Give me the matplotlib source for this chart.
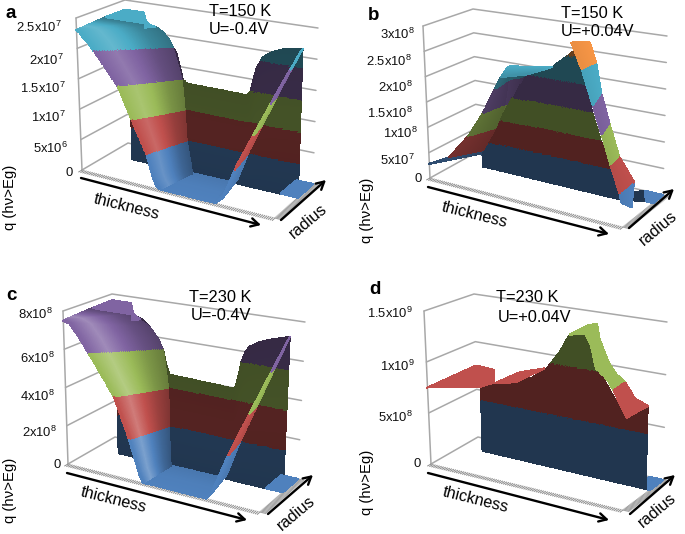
import numpy as np
import matplotlib
matplotlib.use("Agg")
import matplotlib.pyplot as plt
from matplotlib.colors import to_rgb

plt.rcParams['font.family'] = ['Liberation Sans', 'DejaVu Sans']
plt.rcParams['mathtext.default'] = 'regular'

BLUE, RED, GREEN, PURPLE, CYAN, ORANGE = '#4F81BD', '#C0504D', '#9BBB59', '#8064A2', '#4BACC6', '#F79646'
BANDS = [BLUE, RED, GREEN, PURPLE, CYAN, ORANGE]
DARK = 0.42

# ---------- z axis values ----------
A_TICKS = [0, 0.5, 1, 1.5, 2, 2.5]
B_TICKS = [0, 0.5, 1, 1.5, 2, 2.5, 3]
C_TICKS = [0, 2, 4, 6, 8]
D_TICKS = [0, 0.5, 1, 1.5]
A_LABELS = ['0', '5x10$^{6}$', '1x10$^{7}$', '1.5x10$^{7}$', '2x10$^{7}$', '2.5x10$^{7}$']
B_LABELS = ['0', '5x10$^{7}$', '1x10$^{8}$', '1.5x10$^{8}$', '2x10$^{8}$', '2.5x10$^{8}$', '3x10$^{8}$']
C_LABELS = ['0', '2x10$^{8}$', '4x10$^{8}$', '6x10$^{8}$', '8x10$^{8}$']
D_LABELS = ['0', '5x10$^{8}$', '1x10$^{9}$', '1.5x10$^{9}$']

# ---------- panel a values (z in 1e7) ----------
A_WALL_X = [.12, .19, .25, .29, .32, .36, .38, .39, .41, .72, .74, .75, .77, .80, .84, .90, 1.0]
A_WALL_Z = [2.3, 2.33, 2.3, 2.23, 2.12, 1.9, 1.65, 1.5, 1.45, 1.44, 1.5, 1.65, 1.9, 2.08, 2.18, 2.26, 2.32]
A_SLOPE_FX = [0, 0, .015, .03, .055, .083, .197, .264, .337, .368, .385, .40]
A_SLOPE_FZ = [2.3, 2.3, 2.27, 2.2, 2.12, 2.0, 1.5, 1.0, .5, .15, .05, 0]
A_SLOPE_BX = [0, .19, .25, .29, .32, .34, .385, .40, .41, .43, .435, .44]
A_SLOPE_BZ = [2.33, 2.33, 2.3, 2.23, 2.12, 2.0, 1.5, 1.0, .5, .15, .05, 0]
A_STRIP_FX = [.69, .72, .77, .845, .92, 1.0]
A_STRIP_FR = [0, .03, .15, .3, .45, .6]
A_STRIP_BX = [.65, .68, .74, .825, .91, 1.0]
A_STRIP_Z = [0, .08, .58, 1.16, 1.74, 2.32]

# ---------- panel c values (z in 1e8) ----------
C_WALL_X = [.12, .2, .25, .29, .33, .358, .375, .39, .73, .745, .76, .78, .8, .85, .9, 1.0]
C_WALL_Z = [7.6, 7.6, 7.4, 7.05, 6.55, 5.96, 5.2, 4.75, 4.65, 5.2, 6.05, 6.6, 6.9, 7.2, 7.4, 7.7]
C_SLOPE_FX = [0, 0, .03, .08, .125, .245, .32, .37, .39]
C_SLOPE_FZ = [7.5, 7.5, 7.4, 6.7, 5.95, 4, 2, .4, 0]
C_SLOPE_BX = [0, .2, .29, .33, .358, .385, .39, .395, .40]
C_SLOPE_BZ = [7.6, 7.6, 7.05, 6.55, 5.96, 4, 2, .4, 0]
C_STRIP_FX = [.72, .74, .79, .86, .93, 1.0]
C_STRIP_FR = [0, .03, .15, .3, .45, .6]
C_STRIP_BX = [.68, .70, .76, .84, .92, 1.0]
C_STRIP_Z = [0, .25, 1.92, 3.85, 5.78, 7.7]

# ---------- panel b values (z in 1e8) ----------
B_WALL_X = [.12, .36, .49, .6, .643, .696, .74, .793, .846]
B_WALL_Z = [.4, 2.03, 2.26, 2.63, 2.2, 1.51, 1.02, .52, .05]
B_SHEET_FX = [0, .103, .207, .284, .345, .38]
B_SHEET_FZ = [.28, .5, 1, 1.5, 2, 2.26]
B_SHEET_MX = [.16, .18, .25, .30, .32, .33]
B_SHEET_MZ = [.42, .5, 1, 1.5, 2, 2.1]
B_SHEET_BZ = [.28, .5, 1, 1.5, 2, 2.03]
B_STRIP_FX = [.635, .72, .825, .87, .92, .958, .876]
B_STRIP_FR = [.43, .28, .05, .06, .05, .1, .55]
B_STRIP_BX = [.70, .724, .773, .827, .90, .949, .94]
B_STRIP_BR = [.55, .6, .5, .45, .35, .5, .5]
B_STRIP_Z = [2.9, 2.5, 2.0, 1.5, 1.0, .5, .02]

# ---------- panel d values (z in 1e9) ----------
D_WALL_X = [.107, .181, .288, .38, .448, .519, .572, .652, .732, .795, .866, .978]
D_WALL_Z = [.65, .71, .76, .84, .94, 1.13, 1.32, 1.35, .99, .81, .6, .77]
D_GREEN_FX = [.652, .707, .794, .87, .908]
D_GREEN_FR = [.67, .55, .26, .2, .15]
D_GREEN_FZ = [1.35, 1.28, 1.15, 1.07, 1.0]
D_GREEN_BX = [.70, .75, .838, .865, .894]
D_GREEN_BR = [.72, .55, .35, .42, .5]
D_GREEN_BZ = [1.45, 1.35, 1.2, 1.08, 1.0]
D_RED_FX = [.908, .956, .978]
D_RED_FR = [.15, .25, .68]
D_RED_FZ = [.999, .75, .77]
D_RED_BX = [.894, .936, .978]
D_RED_BR = [.5, .55, .68]
D_RED_BZ = [.999, .85, .77]

# ---------- layout (pixels) ----------
# corners: FL, FR, BL, BR (z = 0) and FL, BL, BR at z max
BOX = {
    'a': ((82, 170), (275, 218), (128, 143), (313, 184), (76, 18), (125, 0), (318, 28)),
    'b': ((430, 178), (623, 227), (477, 152), (663, 195), (423, 26), (473, 9), (667, 36)),
    'c': ((68, 464), (260, 512), (115, 437), (298, 479), (63, 311), (112, 294), (305, 322)),
    'd': ((431, 464), (623, 510), (478, 437), (663, 480), (424, 311), (474, 294), (667, 322)),
}

fig = plt.figure(figsize=(6.85, 5.34), dpi=100)
ax = fig.add_axes([0, 0, 1, 1])
ax.set_xlim(0, 685)
ax.set_ylim(534, 0)
ax.axis('off')


class Panel:
    def __init__(self, key, zmax, ticks, labels, bands):
        self.zmax, self.ticks, self.labels = zmax, ticks, labels
        fl, fr, bl, br, flt, blt, brt = [np.array(p, float) for p in BOX[key]]
        frt = fr + (brt - br) * 1.07
        self.c = dict(fl=fl, fr=fr, bl=bl, br=br, flt=flt, blt=blt, brt=brt, frt=frt)
        self.edges = np.array(ticks[:len(bands) + 1], float)
        self.colors = np.array([to_rgb(c) for c in bands])

    def project(self, x, r, z):
        x, r, z = np.asarray(x, float), np.asarray(r, float), np.asarray(z, float) / self.zmax
        c = self.c
        out = []
        for i in range(2):
            lo = (1 - r) * ((1 - x) * c['fl'][i] + x * c['fr'][i]) + r * ((1 - x) * c['bl'][i] + x * c['br'][i])
            hi = (1 - r) * ((1 - x) * c['flt'][i] + x * c['frt'][i]) + r * ((1 - x) * c['blt'][i] + x * c['brt'][i])
            out.append((1 - z) * lo + z * hi)
        return out

    def sheet(self, fx, fr, fz, bx, br, bz, shade=(1, 1, 1), zorder=3):
        """Surface patch between a front and a back edge, coloured by z band."""
        n = max(np.size(a) for a in (fx, fr, fz, bx, br, bz))
        def full(a):
            return np.full(n, float(a)) if np.ndim(a) == 0 else np.asarray(a, float)
        fx, fr, fz, bx, br, bz = map(full, (fx, fr, fz, bx, br, bz))
        stations = np.arange(n)
        s = np.linspace(0, n - 1, 40 * (n - 1) + 1)
        v = np.linspace(1, 0, 111)[:, None]
        w = lambda a: np.interp(s, stations, a)[None, :]
        X = (1 - v) * w(fx) + v * w(bx)
        R = (1 - v) * w(fr) + v * w(br)
        Z = (1 - v) * w(fz) + v * w(bz)
        PX, PY = self.project(X, R, Z)
        zc = 0.25 * (Z[:-1, :-1] + Z[1:, :-1] + Z[:-1, 1:] + Z[1:, 1:])
        idx = np.clip(np.searchsorted(self.edges, zc) - 1, 0, len(self.colors) - 1)
        col = self.colors[idx]
        vc = 0.5 * (v[:-1] + v[1:])
        sh = np.interp(vc[:, 0], np.linspace(0, 1, len(shade)), shade)[:, None, None]
        col = np.where(sh <= 1, col * sh, col + (1 - col) * (sh - 1))
        ax.pcolormesh(PX, PY, col, edgecolors='face', linewidth=0.25, zorder=zorder)

    def frame(self):
        grid = dict(color='#a8a8a8', lw=1.1, zorder=1, solid_capstyle='round')
        zm = self.zmax
        for t in self.ticks:
            px, py = self.project([0, 0, 1], [0, 1, 1], [t, t, t])
            ax.plot(px, py, **grid)
        px, py = self.project([0, 0], [0, 0], [0, zm])
        ax.plot(px, py, **grid)
        for t in np.linspace(0, 1, 95):
            px, py = self.project([t, t], [0, -.07], [0, 0])
            ax.plot(px, py, color='#8c8c8c', lw=0.7, zorder=1)
        for t in np.linspace(0, 1, 36):
            px, py = self.project([1, 1.03], [t, t], [0, 0])
            ax.plot(px, py, color='#a5a5a5', lw=0.9, zorder=1)


def ticks_text(labels, rights, ys):
    for lab, x, y in zip(labels, rights, ys):
        ax.text(x, y, lab, ha='right', va='center', fontsize=9.4, color='#111111', zorder=6)


def annotate(letter, lx, ly, t_text, u_text, tx, ty, ux, uy, qx, qy, thx, thy, rax, ray, a0, a1, r0, r1):
    ax.text(lx, ly, letter, fontsize=13.5, fontweight='bold', ha='center', va='center', zorder=6)
    ax.text(tx, ty, t_text, fontsize=11.8, ha='left', va='center', zorder=6)
    ax.text(ux, uy, u_text, fontsize=11.8, ha='left', va='center', zorder=6)
    ax.text(qx, qy, 'q (h\u03bd>Eg)', fontsize=10.7, rotation=90, ha='center', va='center', zorder=6)
    ax.text(thx, thy, 'thickness', fontsize=11.6, rotation=-14, ha='center', va='center', rotation_mode='anchor', zorder=6)
    ax.text(rax, ray, 'radius', fontsize=11.8, rotation=40, ha='center', va='center', rotation_mode='anchor', zorder=6)
    for p, q in ((a0, a1), (r0, r1)):
        ax.annotate('', xy=q, xytext=p, zorder=6,
                    arrowprops=dict(arrowstyle='->,head_length=0.55,head_width=0.3', color='k', lw=1.7,
                                    shrinkA=0, shrinkB=0))


# ---------- panel a ----------
P = Panel('a', 2.5, A_TICKS, A_LABELS, BANDS[:5])
P.frame()
P.sheet(A_WALL_X, .6, 0, A_WALL_X, .6, A_WALL_Z, shade=(DARK, DARK + .02, DARK))
P.sheet([.91, 1], .6, 0, [.91, 1], 1, 0)
P.sheet([.40, .69], 0, 0, [.44, .65], .6, 0, shade=(1.0, .98, .92))
P.sheet(A_SLOPE_FX, 0, A_SLOPE_FZ, A_SLOPE_BX, .6, A_SLOPE_BZ, shade=(1.0, 1.14, .98, .78, .66))
P.sheet([0, .19], .6, 2.33, [0, .1], 1, 2.33)
P.sheet([.1, .1], 1, [2.33, 2.07], [.19, .25], .6, [2.33, 2.3])
P.sheet(A_STRIP_FX, A_STRIP_FR, A_STRIP_Z, A_STRIP_BX, .6, A_STRIP_Z, shade=(1, .92))
ticks_text(A_LABELS, [73, 68, 66, 66, 64, 62], [173, 148, 117, 88, 60, 27])
annotate('a', 11, 14, 'T=150 K', 'U=-0.4V', 209, 12, 209, 29, 10, 197, 127, 207, 308, 221,
         (81, 178), (261, 225), (281, 220), (326, 180))

# ---------- panel b ----------
P = Panel('b', 3, B_TICKS, B_LABELS, BANDS[:6])
P.frame()
P.sheet([.9, 1], .75, 0, [.9, 1], 1, 0)
P.sheet(B_SHEET_MX, .4, B_SHEET_MZ, .36, .65, B_SHEET_BZ, shade=(.55, .45))
P.sheet(B_WALL_X, .65, 0, B_WALL_X, .65, B_WALL_Z, shade=(DARK, DARK, DARK))
P.sheet(B_SHEET_FX, 0, B_SHEET_FZ, B_SHEET_MX, .4, B_SHEET_MZ, shade=(.6, .52))
P.sheet([.38, .36], [0, .65], [2.26, 2.03], [.36, .49], [.25, .65], [2.35, 2.26], shade=(.85, 1))
P.sheet([.905, .965], [.7, .75], 0, [.905, .965], [.7, .75], [.15, .2], shade=(DARK, DARK))
P.sheet([.965, .965], .75, 0, [.9, 1], 1, 0)
P.sheet(B_STRIP_FX, B_STRIP_FR, B_STRIP_Z, B_STRIP_BX, B_STRIP_BR, B_STRIP_Z, shade=(.95, 1))
ticks_text(B_LABELS, [422, 415, 418, 413, 413, 412, 415], [179, 160, 133, 113, 87, 61, 34])
annotate('b', 374, 15, 'T=150 K', 'U=+0.04V', 561, 13, 561, 31, 367, 210, 475, 215, 658, 228,
         (428, 187), (609, 234), (629, 228), (674, 189))

# ---------- panel c ----------
P = Panel('c', 8, C_TICKS, C_LABELS, BANDS[:4])
P.frame()
P.sheet(C_WALL_X, .6, 0, C_WALL_X, .6, C_WALL_Z, shade=(DARK, DARK + .02, DARK))
P.sheet([.91, 1], .6, 0, [.91, 1], 1, 0)
P.sheet([.39, .72], 0, 0, [.41, .68], .6, 0, shade=(1.0, .98, .92))
P.sheet(C_SLOPE_FX, 0, C_SLOPE_FZ, C_SLOPE_BX, .6, C_SLOPE_BZ, shade=(1.0, 1.25, 1.0, .8, .66))
P.sheet([0, .2], .6, 7.6, [0, .1], 1, 7.65)
P.sheet([.1, .1], 1, [7.65, 6.7], [.2, .24], .6, [7.6, 7.4])
P.sheet(C_STRIP_FX, C_STRIP_FR, C_STRIP_Z, C_STRIP_BX, .6, C_STRIP_Z, shade=(1, .92))
ticks_text(C_LABELS, [61, 57, 55, 55, 53], [465, 432, 396, 358, 314])
annotate('c', 11, 296, 'T=230 K', 'U=-0.4V', 189, 297, 191, 316, 10, 490, 114, 500, 296, 513,
         (67, 473), (247, 520), (268, 514), (313, 475))

# ---------- panel d ----------
P = Panel('d', 1.5, D_TICKS, D_LABELS, BANDS[:3])
P.frame()
P.sheet([.93, 1], .67, 0, [.93, 1], 1, 0)
P.sheet(D_WALL_X, .67, 0, D_WALL_X, .67, D_WALL_Z, shade=(DARK, DARK, DARK))
P.sheet([0, .107], [0, .67], [.75, .65], [0, .095], 1, [.75, .74])
P.sheet(.107, .67, .65, .095, 1, [.74, .61])
P.sheet([.181, .288], .67, [.71, .76], [.26, .44], [.9, .67], [.8, .95])
P.sheet([.572, .652], .67, [1.32, 1.35], [.65, .70], [.75, .72], [1.42, 1.45])
P.sheet(D_GREEN_FX, D_GREEN_FR, D_GREEN_FZ, D_GREEN_BX, D_GREEN_BR, D_GREEN_BZ)
P.sheet(D_RED_FX, D_RED_FR, D_RED_FZ, D_RED_BX, D_RED_BR, D_RED_BZ)
ticks_text(D_LABELS, [421, 413, 415, 413], [464, 417, 366, 313])
annotate('d', 375, 289, 'T=230 K', 'U=+0.04V', 496, 297, 498, 317, 367, 482, 476, 500, 657, 510,
         (428, 473), (609, 520), (630, 514), (675, 475))

fig.savefig('out.png', dpi=100)
